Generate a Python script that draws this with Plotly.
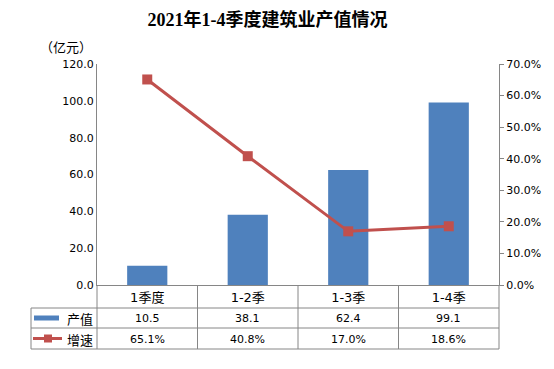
import plotly.graph_objects as go

categories = ["1季度", "1-2季", "1-3季", "1-4季"]
output_value = [10.5, 38.1, 62.4, 99.1]
growth_rate = [0.651, 0.408, 0.170, 0.186]
series_names = ["产值", "增速"]
title_text = "2021年1-4季度建筑业产值情况"
unit_text = "（亿元）"

W, H = 554, 369
L, R, T, B = 97, 499, 64, 285
PW, PH = R - L, B - T


def px(x):
    return (x - L) / PW


def py(y):
    return (B - y) / PH


BLUE = "#4F81BD"
RED = "#C0504D"
GRID = "#868686"
FONT = "DejaVu Sans, Noto Sans CJK SC, sans-serif"
CJK = "Noto Sans CJK SC, sans-serif"

fig = go.Figure()
fig.add_trace(go.Bar(x=categories, y=output_value, name=series_names[0],
                     marker=dict(color=BLUE, line=dict(width=0)), width=0.4))
fig.add_trace(go.Scatter(x=categories, y=growth_rate, name=series_names[1], yaxis="y2",
                         mode="lines+markers",
                         line=dict(color=RED, width=3),
                         marker=dict(symbol="square", size=10, color=RED)))

shapes = []
def line(x0, y0, x1, y1, color=GRID, width=1):
    shapes.append(dict(type="line", xref="paper", yref="paper",
                       x0=px(x0), y0=py(y0), x1=px(x1), y1=py(y1),
                       line=dict(color=color, width=width)))

rows = [285, 308, 328, 349]
left_edge = 31
for r in rows[1:]:
    line(left_edge, r, R, r)
line(left_edge, rows[1], left_edge, rows[3])
n = len(categories)
for i in range(n + 1):
    xx = L + PW * i / n
    line(xx, rows[0], xx, rows[3])

# legend keys inside table
shapes.append(dict(type="rect", xref="paper", yref="paper",
                   x0=px(34), x1=px(59), y0=py(315.5), y1=py(320.5),
                   fillcolor=BLUE, line=dict(width=0)))
line(33, 338.5, 62, 338.5, color=RED, width=3)
shapes.append(dict(type="rect", xref="paper", yref="paper",
                   x0=px(44), x1=px(52), y0=py(334.5), y1=py(342.5),
                   fillcolor=RED, line=dict(width=0)))

annotations = []
row_y = [318.5, 339]
common = dict(showarrow=False, xanchor="center", yanchor="middle")
for i, c in enumerate(categories):
    annotations.append(dict(x=c, xref="x", y=py(row_y[0]), yref="paper",
                            text=f"{output_value[i]:.1f}", **common,
                            font=dict(family=FONT, size=11, color="#000")))
    annotations.append(dict(x=c, xref="x", y=py(row_y[1]), yref="paper",
                            text=f"{growth_rate[i]*100:.1f}%", **common,
                            font=dict(family=FONT, size=11, color="#000")))
for j, nm in enumerate(series_names):
    annotations.append(dict(x=px(79.5), xref="paper", y=py(row_y[j]), yref="paper",
                            text=nm, **common,
                            font=dict(family=CJK, size=13, color="#000")))
annotations.append(dict(x=px(66), xref="paper", y=py(46), yref="paper",
                        text=unit_text, **common,
                        font=dict(family=CJK, size=13, color="#000")))

fig.update_layout(
    width=W, height=H,
    margin=dict(l=L, r=W - R, t=T, b=H - B, pad=0),
    paper_bgcolor="white", plot_bgcolor="white",
    showlegend=False,
    title=dict(text=title_text, x=(143 + 392) / 2 / W, xanchor="center",
               y=1 - 20 / H, yanchor="middle",
               font=dict(family="Liberation Serif, Noto Sans CJK SC, serif",
                         size=18, color="#000", weight="bold")),
    xaxis=dict(type="category", showline=True, linecolor=GRID, linewidth=1,
               ticks="", showgrid=False, range=[-0.5, 3.5],
               tickfont=dict(family=FONT, size=13, color="#000")),
    yaxis=dict(range=[0, 120], dtick=20, tickformat=".1f", showgrid=False,
               showline=True, linecolor=GRID, linewidth=1, ticks="",
               zeroline=False,
               tickfont=dict(family=FONT, size=11, color="#000")),
    yaxis2=dict(range=[0, 0.7], dtick=0.1, tickformat=".1%", overlaying="y",
                side="right", showgrid=False, showline=True, linecolor=GRID,
                linewidth=1, ticks="outside", ticklen=4, tickcolor=GRID,
                zeroline=False,
                tickfont=dict(family=FONT, size=11, color="#000")),
    shapes=shapes, annotations=annotations,
)

fig.write_html("out.html", config={"displayModeBar": False},
               post_script="document.body.style.margin='0';document.body.style.overflow='hidden';")
